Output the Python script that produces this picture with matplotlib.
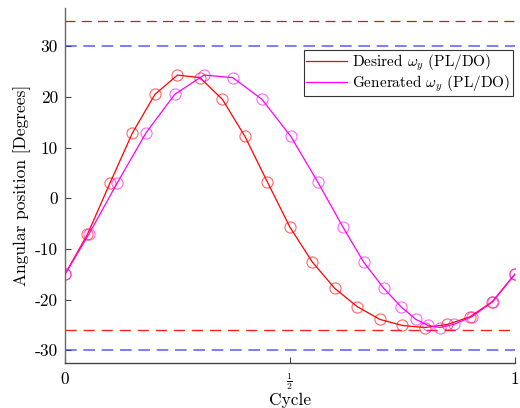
import matplotlib
matplotlib.use('Agg')
import matplotlib.pyplot as plt

# font in the style of the LaTeX source figure
plt.rcParams['font.family'] = ['cmr10', 'DejaVu Serif']
plt.rcParams['mathtext.fontset'] = 'cm'
plt.rcParams['axes.formatter.use_mathtext'] = True

# phase values (cycle) of the circle markers
desired_x = [0.0, 0.05, 0.10, 0.15, 0.20, 0.25, 0.30, 0.35, 0.40, 0.45, 0.50,
             0.55, 0.60, 0.65, 0.70, 0.75, 0.80, 0.85, 0.90, 0.95, 1.0]
generated_x = [0.0, 0.053, 0.116, 0.180, 0.244, 0.309, 0.373, 0.438, 0.502, 0.562, 0.618,
               0.664, 0.709, 0.747, 0.780, 0.807, 0.833, 0.864, 0.904, 0.951, 1.0]
# angular position [deg]
desired_y = [-15.0, -7.1, 3.0, 12.9, 20.5, 24.3, 23.8, 19.5, 12.2, 3.2, -5.7,
             -12.6, -17.8, -21.4, -23.9, -25.1, -25.5, -24.9, -23.4, -20.4, -15.0]
generated_y = [-15.0, -7.1, 3.0, 12.9, 20.5, 24.3, 23.8, 19.5, 12.2, 3.2, -5.7,
               -12.6, -17.8, -21.4, -23.9, -25.1, -25.5, -24.9, -23.4, -20.4, -15.0]

# limit lines
red_upper = 35
red_lower = -26
blue_limits = [30, -30]

yticks = [-30, -20, -10, 0, 10, 20, 30]
ytick_labels = ['-30', '-20', '-10', '0', '10', '20', '30']
xticks = [0, 0.5, 1]
xtick_labels = ['0', r'$\frac{1}{2}$', '1']

fig = plt.figure(figsize=(5.2, 4.08), dpi=100)
ax = fig.add_axes([0.125, 0.1103, 0.865, 0.8697])

ax.axhline(red_upper, color='#e81010', lw=0.9, dashes=(8, 5))
ax.axhline(red_lower, color='#ff2020', lw=1.0, dashes=(8, 5))
for b in blue_limits:
    ax.axhline(b, color='#3333ff', alpha=0.75, lw=1.2, dashes=(7, 4))

ax.plot(desired_x, desired_y, color='#ff0000', lw=0.9, label=r'Desired $\omega_y$ (PL/DO)')
ax.plot(generated_x, generated_y, color='#ff00ff', lw=0.9, label=r'Generated $\omega_y$ (PL/DO)')
ax.plot(desired_x, desired_y, ls='none', marker='o', ms=8, mfc='none',
        mec='#ff0000', mew=0.8, alpha=0.6)
ax.plot(generated_x, generated_y, ls='none', marker='o', ms=8, mfc='none',
        mec='#ff00ff', mew=0.8, alpha=0.6)

ax.set_xlim(0, 1)
ax.set_ylim(-32.5, 37.5)
ax.set_xticks(xticks)
ax.set_xticklabels(xtick_labels)
ax.set_yticks(yticks)
ax.set_yticklabels(ytick_labels)
ax.tick_params(direction='in', length=4, labelsize=12.5, color='#444444')
ax.tick_params(axis='y', pad=5)
ax.tick_params(axis='x', pad=6)
ax.get_xticklabels()[1].set_fontsize(10)
ax.set_xlabel('Cycle', fontsize=12.5)
ax.xaxis.set_label_coords(0.5, -0.085)
ax.set_ylabel('Angular position [Degrees]', fontsize=12.5, labelpad=3)

ax.spines['top'].set_visible(False)
ax.spines['right'].set_visible(False)
ax.spines['left'].set_color('#666666')
ax.spines['bottom'].set_color('#444444')
ax.spines['left'].set_linewidth(1.0)
ax.spines['bottom'].set_linewidth(1.0)

leg = ax.legend(loc='upper right', bbox_to_anchor=(0.995, 0.882), fontsize=11,
                fancybox=False, framealpha=1, edgecolor='#333333',
                borderpad=0.15, labelspacing=0.05, handlelength=2.7, handletextpad=0.3,
                borderaxespad=0)
leg.get_frame().set_linewidth(0.8)

fig.savefig('out.png', dpi=100)
